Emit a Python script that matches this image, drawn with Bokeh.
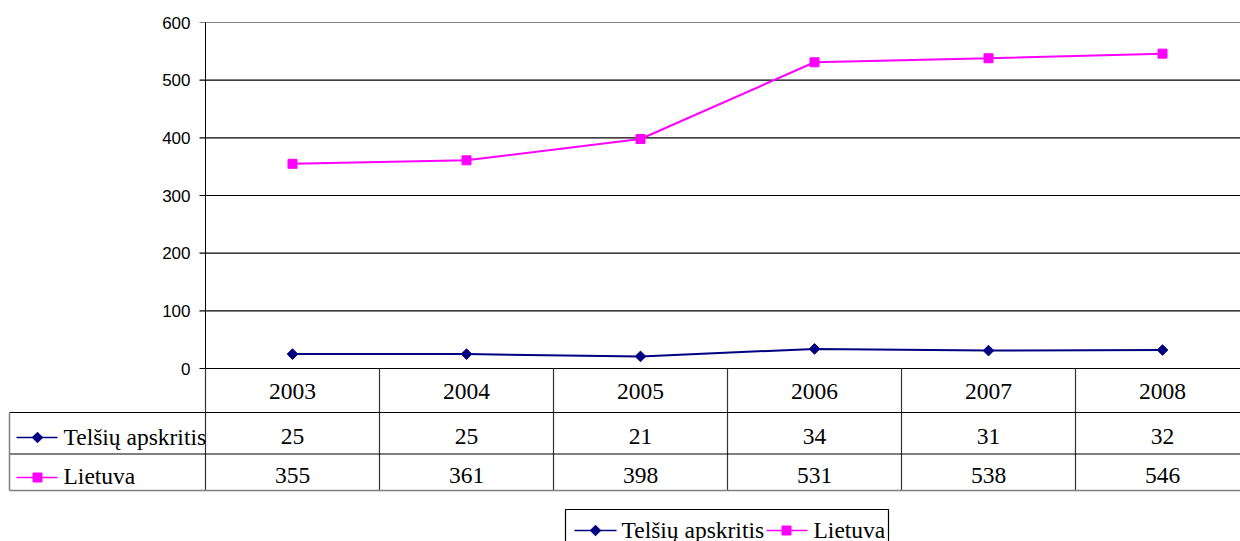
import math
from bokeh.plotting import figure
from bokeh.models import Range1d
from bokeh.embed import file_html
from bokeh.resources import INLINE
from bokeh.core.properties import value

# ---- data ----
years = ["2003", "2004", "2005", "2006", "2007", "2008"]
telsiai = [25, 25, 21, 34, 31, 32]
lietuva = [355, 361, 398, 531, 538, 546]
series_names = ["Telšių apskritis", "Lietuva"]
y_ticks = [0, 100, 200, 300, 400, 500, 600]

# ---- layout helpers (page pixels -> data units) ----
W, H = 1240, 541
OX, OY = 0, 0
COL = 174.0          # width of one category column, px
X0 = 292.0           # page x of first category centre
Y0 = 368.0           # page y of value 0
PPU = 346.0 / 600.0  # px per value unit


def dx(ix):
    return (ix - X0) / COL


def dy(iy):
    return (Y0 - iy) / PPU


BLUE = "#000080"
MAG = "#FF00FF"
SERIF = value("Times New Roman")
SANS = value("Liberation Sans")
FS = "23.5px"

p = figure(width=W, height=H,
           x_range=Range1d(dx(OX), dx(OX + W)),
           y_range=Range1d(dy(OY + H), dy(OY)),
           output_backend="svg", toolbar_location=None,
           x_axis_location=None, y_axis_location=None,
           min_border=0, outline_line_color=None)
p.grid.visible = False
p.background_fill_color = "white"
p.border_fill_color = "white"

RIGHT = dx(1260)

# grid lines with tick stubs
for v in y_ticks:
    col = "#808080" if v == y_ticks[-1] else "black"
    p.segment(x0=[dx(199)], x1=[RIGHT], y0=[v], y1=[v], line_color=col, line_width=1.2)

# y axis line
p.segment(x0=[dx(205)], x1=[dx(205)], y0=[0], y1=[y_ticks[-1]], line_color="black", line_width=1)

# y tick labels
p.text(x=[dx(190)] * len(y_ticks), y=y_ticks, text=[str(v) for v in y_ticks],
       text_align="right", text_baseline="middle", text_font=SANS,
       text_font_size="17px", text_color="black")

# ---- data table ----
n = len(years)
xs = list(range(n))
for k in range(n + 1):
    xb = k - 0.5
    p.segment(x0=[xb], x1=[xb], y0=[dy(368)], y1=[dy(490)], line_color="#333333", line_width=1.2)
p.segment(x0=[dx(9)], x1=[RIGHT], y0=[dy(412)], y1=[dy(412)], line_color="black", line_width=1.2)
p.segment(x0=[dx(9)], x1=[RIGHT], y0=[dy(453.5)], y1=[dy(453.5)], line_color="black", line_width=1.2)
p.segment(x0=[dx(9)], x1=[RIGHT], y0=[dy(490)], y1=[dy(490)], line_color="#808080", line_width=1.5)
p.segment(x0=[dx(9)], x1=[dx(9)], y0=[dy(412)], y1=[dy(490)], line_color="#808080", line_width=1.5)

p.text(x=xs, y=[dy(391)] * n, text=years, text_align="center", text_baseline="middle",
       text_font=SERIF, text_font_size=FS, text_color="black")
p.text(x=xs, y=[dy(436)] * n, text=[str(v) for v in telsiai], text_align="center",
       text_baseline="middle", text_font=SERIF, text_font_size=FS, text_color="black")
p.text(x=xs, y=[dy(475)] * n, text=[str(v) for v in lietuva], text_align="center",
       text_baseline="middle", text_font=SERIF, text_font_size=FS, text_color="black")


def key(x_left, x_right, x_mark, y, color, marker, size, angle=0.0):
    p.line(x=[dx(x_left), dx(x_right)], y=[dy(y), dy(y)], line_color=color, line_width=1.6)
    p.scatter(x=[dx(x_mark)], y=[dy(y)], marker=marker, size=size, angle=angle,
              fill_color=color, line_color=color)


key(16, 57, 37, 437, BLUE, "square", 7.5, math.pi / 4)
key(16, 57, 37, 477, MAG, "square", 9)
p.text(x=[dx(63)], y=[dy(436)], text=[series_names[0]], text_align="left", text_baseline="middle",
       text_font=SERIF, text_font_size=FS, text_color="black")
p.text(x=[dx(63)], y=[dy(475)], text=[series_names[1]], text_align="left", text_baseline="middle",
       text_font=SERIF, text_font_size=FS, text_color="black")

# ---- data series ----
p.line(x=xs, y=lietuva, line_color=MAG, line_width=2)
p.scatter(x=xs, y=lietuva, marker="square", size=9, fill_color=MAG, line_color=MAG)
p.line(x=xs, y=telsiai, line_color=BLUE, line_width=2)
p.scatter(x=xs, y=telsiai, marker="square", size=7.5, angle=math.pi / 4,
          fill_color=BLUE, line_color=BLUE)

# ---- bottom legend ----
p.quad(left=[dx(565)], right=[dx(888)], top=[dy(509)], bottom=[dy(560)],
       fill_color=None, line_color="black", line_width=1.2)
key(574, 616, 595, 530, BLUE, "square", 7.5, math.pi / 4)
p.text(x=[dx(621)], y=[dy(529)], text=[series_names[0]], text_align="left", text_baseline="middle",
       text_font=SERIF, text_font_size=FS, text_color="black")
key(766, 807, 786, 530, MAG, "square", 9)
p.text(x=[dx(813)], y=[dy(529)], text=[series_names[1]], text_align="left", text_baseline="middle",
       text_font=SERIF, text_font_size=FS, text_color="black")

open("out.html", "w").write(file_html(p, INLINE))
